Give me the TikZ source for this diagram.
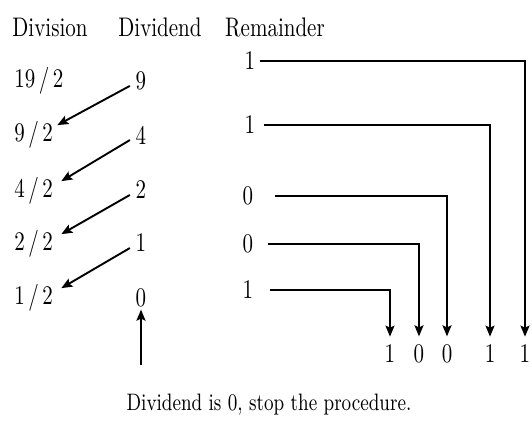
\documentclass[tikz,border=0pt]{standalone}
\usepackage{xcolor}
\usepackage{amsmath}
\usetikzlibrary{arrows.meta, positioning}

% text in the figure is set a bit taller than wide
\newcommand{\talltext}[1]{\scalebox{1}[1.28]{#1}}

\begin{document}
\begin{tikzpicture}[x=0.5pt, y=-0.5pt, font=\fontsize{10.5}{12}\selectfont,
  txt/.style={inner sep=1pt},
  divarrow/.style={line width=0.95pt, -{Stealth[length=5.5pt, width=4.5pt, inset=1pt]}},
  bitline/.style={line width=0.95pt, -{Stealth[length=5.5pt, width=4.5pt, inset=1pt]}}]
  \useasboundingbox (0,0) rectangle (532,423);

  % column headers
  \node[txt] (hdiv) at (50,27) {\talltext{Division}};
  \node[txt] (hdvd) at (160,27) {\talltext{Dividend}};
  \node[txt] (hrem) at (275,27) {\talltext{Remainder}};

  % division column
  \node[txt, anchor=west] (d1) at (12,81) {\talltext{19\,/\,2}};
  \node[txt, anchor=west] (d2) at (12,135) {\talltext{9\,/\,2}};
  \node[txt, anchor=west] (d3) at (12,191) {\talltext{4\,/\,2}};
  \node[txt, anchor=west] (d4) at (12,244) {\talltext{2\,/\,2}};
  \node[txt, anchor=west] (d5) at (12,298) {\talltext{1\,/\,2}};

  % dividend column
  \node[txt] (q1) at (141,81) {\talltext{9}};
  \node[txt] (q2) at (141,135) {\talltext{4}};
  \node[txt] (q3) at (141,190) {\talltext{2}};
  \node[txt] (q4) at (141,243) {\talltext{1}};
  \node[txt] (q5) at (141,298) {\talltext{0}};

  % remainders
  \node[txt] (r1) at (250,61) {\talltext{1}};
  \node[txt] (r2) at (250,125) {\talltext{1}};
  \node[txt] (r3) at (248,196) {\talltext{0}};
  \node[txt] (r4) at (248,244) {\talltext{0}};
  \node[txt] (r5) at (248,290) {\talltext{1}};

  % binary result
  \node[txt] (b1) at (390,354) {\talltext{1}};
  \node[txt] (b2) at (419,354) {\talltext{0}};
  \node[txt] (b3) at (447,354) {\talltext{0}};
  \node[txt] (b4) at (490,354) {\talltext{1}};
  \node[txt] (b5) at (525,354) {\talltext{1}};

  \node[txt, font=\fontsize{9.3}{11}\selectfont] (note) at (269,405)
    {\talltext{Dividend is 0, stop the procedure.}};

  % quotient goes to next division
  \draw[divarrow, shorten <=2pt] ([yshift=-1.5pt]q1.west) -- ([xshift=1pt, yshift=-3pt]d2.north east);
  \draw[divarrow, shorten <=2pt] ([yshift=-1.5pt]q2.west) -- ([xshift=3pt, yshift=-3pt]d3.north east);
  \draw[divarrow, shorten <=2pt] ([yshift=-1.5pt]q3.west) -- ([xshift=3pt, yshift=-3pt]d4.north east);
  \draw[divarrow, shorten <=2pt] ([yshift=-1.5pt]q4.west) -- ([xshift=3pt, yshift=-3pt]d5.north east);

  \coordinate (stop) at (141,365);
  \draw[divarrow] (stop) -- (q5.south);

  % read the remainders bottom up
  \foreach \r/\b/\g in {r1/b5/1, r2/b4/3, r3/b3/9.5, r4/b2/6, r5/b1/7}
    \draw[bitline, shorten <=\g pt, shorten >=3pt] (\r.east) -| (\b.north);
\end{tikzpicture}
\end{document}
